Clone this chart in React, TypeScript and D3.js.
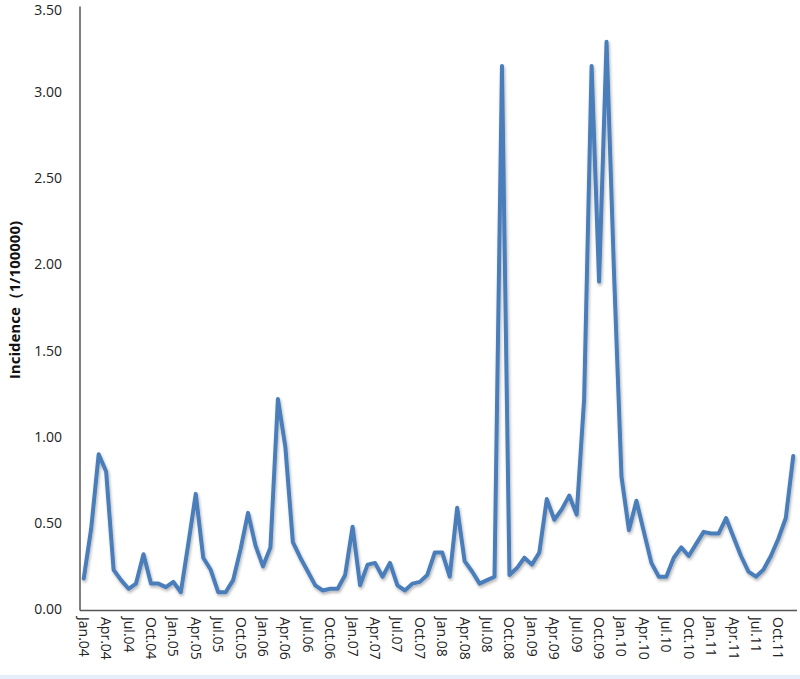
import React, { useEffect, useRef } from 'react'
import * as d3 from 'd3'

const years = ['04', '05', '06', '07', '08', '09', '10', '11']
const monthNames = ['Jan', 'Feb', 'Mar', 'Apr', 'May', 'Jun', 'Jul', 'Aug', 'Sep', 'Oct', 'Nov', 'Dec']
const months = years.flatMap(y => monthNames.map(m => `${m}.${y}`))

// monthly incidence (1/100000), Jan.04 - Dec.11
const incidence2004 = [0.18, 0.47, 0.90, 0.80, 0.23, 0.17, 0.12, 0.15, 0.32, 0.15, 0.15, 0.13]
const incidence2005 = [0.16, 0.10, 0.38, 0.67, 0.30, 0.23, 0.10, 0.10, 0.17, 0.35, 0.56, 0.37]
const incidence2006 = [0.25, 0.36, 1.22, 0.94, 0.39, 0.30, 0.22, 0.14, 0.11, 0.12, 0.12, 0.20]
const incidence2007 = [0.48, 0.14, 0.26, 0.27, 0.19, 0.27, 0.14, 0.11, 0.15, 0.16, 0.20, 0.33]
const incidence2008 = [0.33, 0.19, 0.59, 0.28, 0.22, 0.15, 0.17, 0.19, 3.15, 0.20, 0.24, 0.30]
const incidence2009 = [0.26, 0.33, 0.64, 0.52, 0.58, 0.66, 0.55, 1.22, 3.15, 1.90, 3.29, 1.95]
const incidence2010 = [0.77, 0.46, 0.63, 0.45, 0.27, 0.19, 0.19, 0.30, 0.36, 0.31, 0.38, 0.45]
const incidence2011 = [0.44, 0.44, 0.53, 0.42, 0.31, 0.22, 0.19, 0.23, 0.31, 0.41, 0.53, 0.89]
const incidence = [
    ...incidence2004, ...incidence2005, ...incidence2006, ...incidence2007,
    ...incidence2008, ...incidence2009, ...incidence2010, ...incidence2011,
]

const yTicks = [0, 0.5, 1, 1.5, 2, 2.5, 3, 3.5]
const yLabel = 'Incidence（1/100000)'

const LineChart = () => {
    const svgRef = useRef<SVGSVGElement>(null)

    useEffect(() => {
        const width = 800
        const height = 679
        const left = 80
        const right = 797
        const top = 5.5
        const bottom = 609.5
        const font = '"Open Sans", "Liberation Sans", sans-serif'

        const svg = d3.select(svgRef.current)
        svg.selectAll('*').remove()
        svg.attr('width', width).attr('height', height)

        const defs = svg.append('defs')
        const filter = defs.append('filter').attr('id', 'shadow')
            .attr('x', '-10%').attr('y', '-10%').attr('width', '120%').attr('height', '120%')
        filter.append('feDropShadow')
            .attr('dx', 1).attr('dy', 2).attr('stdDeviation', 1.5)
            .attr('flood-color', '#000').attr('flood-opacity', 0.3)

        svg.append('rect').attr('width', width).attr('height', height).attr('fill', '#fff')
        svg.append('rect').attr('y', 675).attr('width', width).attr('height', 4).attr('fill', '#e6eef9')

        const x = d3.scalePoint<string>().domain(months).range([left, right]).padding(0.5)
        const y = d3.scaleLinear().domain([0, 3.5]).range([bottom, top])

        // y tick labels (top one nudged so it stays inside the frame)
        svg.selectAll('.ytick')
            .data(yTicks)
            .enter()
            .append('text')
            .attr('x', 62)
            .attr('y', d => Math.max(y(d), 10))
            .attr('dy', '0.35em')
            .attr('text-anchor', 'end')
            .attr('font-family', font)
            .attr('font-size', 14)
            .attr('fill', '#222')
            .text(d => d.toFixed(2))

        // x labels, every third month
        const shown = months.filter((_, i) => i % 3 === 0)
        svg.selectAll('.xtick')
            .data(shown)
            .enter()
            .append('text')
            .attr('transform', d => `translate(${x(d)! - 5},617) rotate(90)`)
            .attr('text-anchor', 'start')
            .attr('font-family', font)
            .attr('font-size', 14)
            .attr('fill', '#222')
            .text(d => d)

        svg.append('text')
            .attr('transform', `translate(20,300) rotate(-90)`)
            .attr('text-anchor', 'middle')
            .attr('font-family', font)
            .attr('font-size', 15)
            .attr('font-weight', 'bold')
            .attr('fill', '#111')
            .text(yLabel)

        // axes
        svg.append('line')
            .attr('x1', left).attr('x2', left)
            .attr('y1', top + 1).attr('y2', bottom + 1)
            .attr('stroke', '#555').attr('stroke-width', 1.5)
        svg.append('line')
            .attr('x1', left).attr('x2', right)
            .attr('y1', bottom + 1).attr('y2', bottom + 1)
            .attr('stroke', '#555').attr('stroke-width', 1.5)

        const line = d3.line<number>()
            .x((_, i) => x(months[i])!)
            .y(d => y(d))

        svg.append('path')
            .datum(incidence)
            .attr('d', line)
            .attr('fill', 'none')
            .attr('stroke', '#4a7ebb')
            .attr('stroke-width', 4)
            .attr('stroke-linejoin', 'round')
            .attr('stroke-linecap', 'round')
            .attr('filter', 'url(#shadow)')
    }, [])

    return <svg ref={svgRef} style={{ position: 'absolute', left: 0, top: 0 }}></svg>
}

export default function App() {
    return <LineChart />
}
